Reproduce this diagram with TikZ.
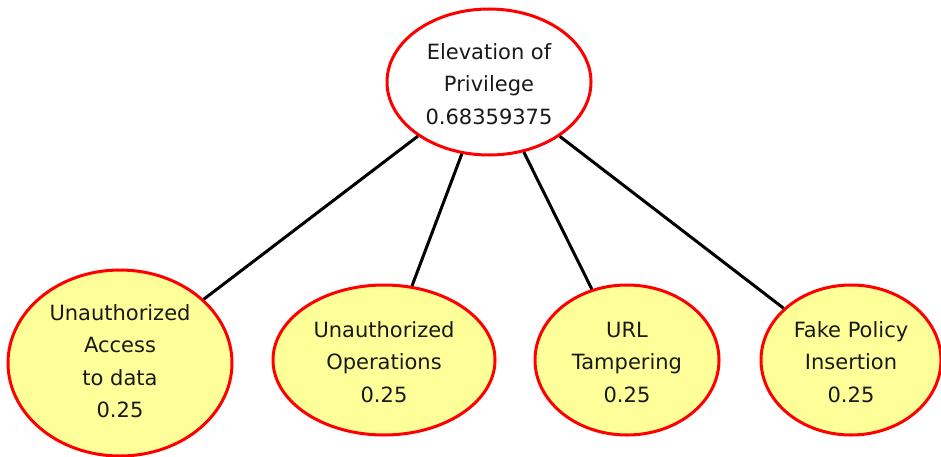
\documentclass[tikz,border=0pt]{standalone}
\usepackage{fontspec}
\setmainfont{DejaVu Sans}
\usetikzlibrary{shapes.geometric}
\definecolor{nodefill}{HTML}{FFFF99}
\definecolor{rimred}{HTML}{FF0000}
\begin{document}
\begin{tikzpicture}[x=1pt,y=1pt,
  bubble/.style={ellipse, draw=rimred, line width=3pt, inner sep=0pt},
  rootbubble/.style={bubble, fill=white},
  leafbubble/.style={bubble, fill=nodefill},
  caption/.style={align=center, inner sep=0pt, text=black!90,
    font=\fontsize{21}{32.5}\selectfont},
  link/.style={line width=3pt, black}]
\useasboundingbox (0,0) rectangle (941,456);

% parent threat
\node[rootbubble, minimum width=204pt, minimum height=146pt] (root) at (489,374) {};
\node[caption] (rootlbl) at (489,372) {Elevation of\\Privilege\\0.68359375};

% child threats
\node[leafbubble, minimum width=224pt, minimum height=186pt] (uad) at (120,93) {};
\node[leafbubble, minimum width=222pt, minimum height=150pt] (uop) at (384,96) {};
\node[leafbubble, minimum width=184pt, minimum height=150pt] (url) at (627,96) {};
\node[leafbubble, minimum width=180pt, minimum height=150pt] (fpi) at (851,96) {};

\node[caption] (uadlbl) at (120,95) {Unauthorized\\Access\\to data\\0.25};
\node[caption] (uoplbl) at (384,94) {Unauthorized\\Operations\\0.25};
\node[caption] (urllbl) at (627,94) {URL\\Tampering\\0.25};
\node[caption] (fpilbl) at (851,94) {Fake Policy\\Insertion\\0.25};

% connectors, from the parent to each child
\draw[link] (root) -- (uad);
\draw[link] (root) -- (uop);
\draw[link] (root) -- (url);
\draw[link] (root) -- (fpi);
\end{tikzpicture}
\end{document}
